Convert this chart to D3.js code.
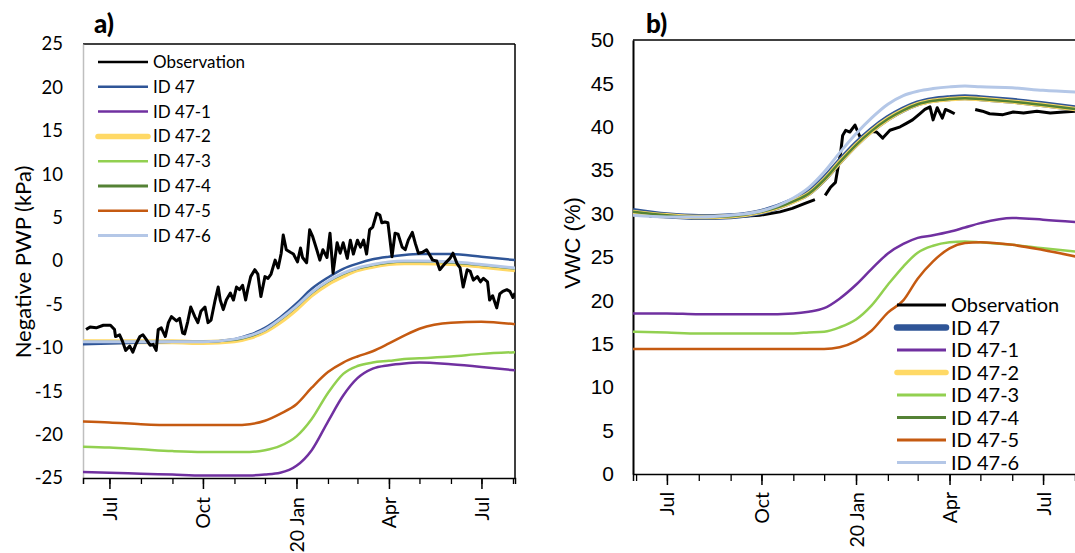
<!DOCTYPE html>
<html>
<head>
<meta charset="utf-8">
<script src="https://cdn.jsdelivr.net/npm/d3@7"></script>
<style>
  body { margin: 0; background: #fff; }
  svg { display: block; }
</style>
</head>
<body>
<svg id="chart" width="1075" height="553"></svg>
<script>
// ---- series meta ----
const seriesNames  = ["Observation", "ID 47", "ID 47-1", "ID 47-2", "ID 47-3", "ID 47-4", "ID 47-5", "ID 47-6"];
const seriesColors = ["#000000", "#2F5597", "#7030A0", "#FFD966", "#92D050", "#548235", "#C55A11", "#B4C7E7"];

// ---- axis ticks ----
const majorTickDates = ["2019-07-01", "2019-10-01", "2020-01-01", "2020-04-01", "2020-07-01"];
const xTickLabels    = ["Jul", "Oct", "20 Jan", "Apr", "Jul"];
const pwpTicks = [-25, -20, -15, -10, -5, 0, 5, 10, 15, 20, 25];
const vwcTicks = [0, 5, 10, 15, 20, 25, 30, 35, 40, 45, 50];

// ---- simulated series, panel a) negative pore-water pressure (kPa) ----
const pwpDates = ["2019-06-05", "2019-07-01", "2019-08-01", "2019-09-01", "2019-10-01", "2019-11-01", "2019-11-16",
  "2019-12-01", "2019-12-16", "2020-01-01", "2020-01-16", "2020-02-01", "2020-02-16", "2020-03-01", "2020-03-16",
  "2020-04-01", "2020-04-16", "2020-05-01", "2020-06-01", "2020-07-01", "2020-08-03"];
const pwp47   = [-9.6, -9.5, -9.4, -9.3, -9.3, -9.0, -8.5, -7.7, -6.5, -4.9, -3.2, -1.9, -0.9, -0.3, 0.2, 0.5, 0.7, 0.8, 0.8, 0.5, 0.1];
const pwp47_1 = [-24.3, -24.4, -24.5, -24.6, -24.7, -24.7, -24.7, -24.6, -24.4, -23.6, -21.8, -18.5, -15.5, -13.5, -12.4, -12.0, -11.8, -11.7, -11.9, -12.2, -12.6];
const pwp47_2 = [-9.3, -9.3, -9.3, -9.3, -9.4, -9.2, -8.8, -8.1, -7.0, -5.5, -3.9, -2.6, -1.7, -1.0, -0.6, -0.3, -0.2, -0.2, -0.3, -0.6, -1.0];
const pwp47_3 = [-21.4, -21.5, -21.7, -21.9, -22.0, -22.0, -22.0, -21.8, -21.3, -20.2, -18.2, -15.2, -13.0, -12.1, -11.7, -11.5, -11.3, -11.2, -11.0, -10.7, -10.5];
const pwp47_4 = [-9.3, -9.3, -9.3, -9.3, -9.3, -9.1, -8.7, -8.0, -6.8, -5.3, -3.7, -2.4, -1.5, -0.9, -0.5, -0.2, -0.1, -0.1, -0.2, -0.5, -0.9];
const pwp47_5 = [-18.5, -18.6, -18.8, -18.9, -18.9, -18.9, -18.8, -18.4, -17.6, -16.5, -14.6, -12.8, -11.7, -11.0, -10.4, -9.5, -8.6, -7.8, -7.1, -7.0, -7.3];
const pwp47_6 = [-9.3, -9.3, -9.3, -9.3, -9.3, -9.0, -8.6, -7.9, -6.7, -5.2, -3.6, -2.3, -1.4, -0.8, -0.4, -0.1, 0.0, 0.0, -0.1, -0.4, -0.8];

// ---- observed negative PWP (kPa) ----
const pwpObsDates = ["2019-06-08", "2019-06-12", "2019-06-18", "2019-06-25", "2019-07-02", "2019-07-06", "2019-07-07",
  "2019-07-11", "2019-07-14", "2019-07-17", "2019-07-21", "2019-07-24", "2019-07-27", "2019-07-31", "2019-08-03",
  "2019-08-06", "2019-08-10", "2019-08-13", "2019-08-16", "2019-08-18", "2019-08-21", "2019-08-25", "2019-08-28",
  "2019-08-31", "2019-09-05", "2019-09-08", "2019-09-11", "2019-09-13", "2019-09-16", "2019-09-19", "2019-09-23",
  "2019-09-26", "2019-09-29", "2019-10-03", "2019-10-06", "2019-10-09", "2019-10-13", "2019-10-16", "2019-10-18",
  "2019-10-21", "2019-10-24", "2019-10-28", "2019-10-31", "2019-11-03", "2019-11-06", "2019-11-09", "2019-11-12",
  "2019-11-14", "2019-11-17", "2019-11-21", "2019-11-24", "2019-11-27", "2019-12-01", "2019-12-04", "2019-12-07",
  "2019-12-11", "2019-12-14", "2019-12-17", "2019-12-19", "2019-12-22", "2019-12-26", "2019-12-29", "2020-01-02",
  "2020-01-05", "2020-01-07", "2020-01-11", "2020-01-14", "2020-01-17", "2020-01-21", "2020-01-24", "2020-01-27",
  "2020-01-31", "2020-02-03", "2020-02-06", "2020-02-10", "2020-02-13", "2020-02-16", "2020-02-20", "2020-02-23",
  "2020-02-26", "2020-03-01", "2020-03-04", "2020-03-07", "2020-03-10", "2020-03-13", "2020-03-16", "2020-03-20",
  "2020-03-23", "2020-03-25", "2020-03-28", "2020-03-31", "2020-04-04", "2020-04-07", "2020-04-10", "2020-04-14",
  "2020-04-17", "2020-04-20", "2020-04-24", "2020-04-27", "2020-04-30", "2020-05-04", "2020-05-08", "2020-05-14",
  "2020-05-18", "2020-05-21", "2020-05-26", "2020-05-31", "2020-06-03", "2020-06-07", "2020-06-10", "2020-06-13",
  "2020-06-17", "2020-06-20", "2020-06-23", "2020-06-27", "2020-06-30", "2020-07-03", "2020-07-07", "2020-07-09",
  "2020-07-12", "2020-07-16", "2020-07-19", "2020-07-22", "2020-07-26", "2020-07-29", "2020-08-01", "2020-08-03"];
const pwpObs = [-7.9, -7.6, -7.7, -7.4, -7.4, -7.9, -8.7,
  -8.5, -9.3, -10.3, -9.8, -10.5, -9.6, -8.7, -8.5,
  -9.0, -9.7, -9.6, -10.3, -7.9, -7.7, -8.7, -7.1,
  -6.4, -6.9, -6.6, -8.3, -8.4, -7.0, -5.3, -6.4,
  -7.1, -5.8, -5.3, -7.1, -6.8, -4.5, -3.0, -4.5,
  -5.6, -4.5, -3.7, -4.5, -3.0, -3.3, -2.8, -4.5,
  -3.3, -1.8, -1.0, -1.5, -4.1, -1.8, -2.0, -1.5,
  0.1, -0.8, 0.9, 3.0, 1.3, 1.0, 0.8, -0.1,
  1.5, 0.4, -0.2, 3.6, 2.8, 1.3, 0.1, 1.3,
  0.4, 3.2, -1.4, 2.1, 0.9, 2.1, 0.3, 2.4,
  0.8, 2.4, 1.6, 2.4, 0.8, 3.6, 3.9, 5.5,
  5.3, 4.4, 4.5, 4.4, 0.5, 3.2, 3.1, 1.6,
  1.3, 2.4, 3.3, 2.0, 0.9, 1.0, 1.3, 0.1,
  0.0, -1.0, -0.3, 0.3, 0.9, -0.3, -0.8, -3.0,
  -1.0, -1.2, -2.2, -1.8, -2.4, -2.0, -2.4, -4.5,
  -4.0, -5.4, -3.8, -3.5, -3.3, -3.5, -4.2, -3.7];

// ---- simulated series, panel b) volumetric water content (%) ----
const vwcDates = ["2019-05-29", "2019-07-01", "2019-08-01", "2019-09-01", "2019-10-01", "2019-11-01", "2019-11-16",
  "2019-12-01", "2019-12-16", "2020-01-01", "2020-01-16", "2020-02-01", "2020-02-16", "2020-03-01", "2020-03-16",
  "2020-04-01", "2020-04-16", "2020-05-01", "2020-06-01", "2020-07-01", "2020-08-04"];
const vwc47   = [30.3, 29.8, 29.6, 29.7, 30.2, 31.5, 32.4, 34.0, 36.0, 38.0, 39.6, 41.0, 42.0, 42.7, 43.1, 43.3, 43.4, 43.3, 43.0, 42.6, 42.1];
const vwc47_1 = [18.5, 18.5, 18.4, 18.4, 18.4, 18.5, 18.7, 19.1, 20.2, 21.8, 23.6, 25.4, 26.5, 27.2, 27.5, 27.9, 28.4, 28.9, 29.5, 29.3, 29.0];
const vwc47_2 = [30.2, 29.8, 29.6, 29.7, 30.2, 31.4, 32.3, 33.9, 35.9, 37.9, 39.5, 40.9, 41.9, 42.6, 43.0, 43.2, 43.3, 43.2, 42.9, 42.5, 42.0];
const vwc47_3 = [16.4, 16.3, 16.2, 16.2, 16.2, 16.2, 16.3, 16.4, 16.9, 17.8, 19.4, 21.8, 23.9, 25.5, 26.3, 26.7, 26.8, 26.7, 26.4, 26.0, 25.6];
const vwc47_4 = [30.2, 29.8, 29.6, 29.7, 30.2, 31.4, 32.3, 33.9, 35.9, 37.9, 39.5, 40.9, 41.9, 42.6, 43.0, 43.2, 43.3, 43.2, 42.9, 42.5, 42.0];
const vwc47_5 = [14.4, 14.4, 14.4, 14.4, 14.4, 14.4, 14.4, 14.4, 14.6, 15.3, 16.5, 18.6, 20.0, 22.5, 24.5, 26.0, 26.6, 26.7, 26.4, 25.8, 25.0];
const vwc47_6 = [29.8, 29.6, 29.6, 29.8, 30.3, 31.8, 33.0, 34.8, 37.0, 39.2, 41.0, 42.6, 43.6, 44.1, 44.4, 44.6, 44.7, 44.6, 44.5, 44.2, 44.0];

// ---- observed VWC (%); null marks gaps in the record ----
const vwcObsDates = ["2019-06-14", "2019-07-07", "2019-08-02", "2019-08-31", "2019-09-29", "2019-10-19", "2019-10-31",
  "2019-11-13", "2019-11-22", "2019-11-27", "2019-12-02", "2019-12-07", "2019-12-12", "2019-12-14", "2019-12-17",
  "2019-12-19", "2019-12-22", "2019-12-26", "2019-12-31", "2020-01-05", "2020-01-12", "2020-01-14", "2020-01-21",
  "2020-01-27", "2020-02-03", "2020-02-13", "2020-02-19", "2020-02-25", "2020-03-03", "2020-03-08", "2020-03-13",
  "2020-03-16", "2020-03-20", "2020-03-25", "2020-03-28", "2020-04-01", "2020-04-06", "2020-04-16", "2020-04-26",
  "2020-05-03", "2020-05-10", "2020-05-23", "2020-06-02", "2020-06-12", "2020-06-25", "2020-07-08", "2020-07-21",
  "2020-08-03"];
const vwcObs = [29.7, 29.6, 29.5, 29.6, 29.8, 30.2, 30.6,
  31.2, 31.6, null, 32.1, 33.0, 33.6, 35.0, 37.0,
  39.0, 39.6, 39.4, 40.2, 38.8, 39.1, 39.5, 39.4,
  38.7, 39.6, 40.0, 40.4, 40.8, 41.5, 42.0, 42.3,
  40.8, 42.2, 41.0, 42.0, 41.8, 41.5, null, 42.0,
  41.8, 41.5, 41.4, 41.7, 41.6, 41.8, 41.6, 41.7,
  41.8];

const parse = d3.timeParse("%Y-%m-%d");
const svg = d3.select("#chart");
svg.append("rect").attr("width", 1075).attr("height", 553).attr("fill", "#fff");

const calibriLike = "Lato, 'Open Sans', sans-serif";
const arialLike = "'Liberation Sans', Arial, sans-serif";
// plain hyphen for negative tick values
const plainNumber = d => String(d);

function drawPanel(cfg) {
  const x = d3.scaleTime().domain(cfg.xDomain.map(parse)).range([cfg.left, cfg.right]);
  const y = d3.scaleLinear().domain(cfg.yDomain).range([cfg.bottom, cfg.top]);

  const clipId = "clip-" + cfg.id;
  svg.append("clipPath").attr("id", clipId).append("rect")
    .attr("x", cfg.left).attr("y", cfg.top - 4)
    .attr("width", cfg.right - cfg.left).attr("height", cfg.bottom - cfg.top + 4);

  // frame: top and right edges
  svg.append("line").attr("x1", cfg.left).attr("x2", cfg.right).attr("y1", cfg.top).attr("y2", cfg.top)
    .attr("stroke", "#000").attr("stroke-width", 1.5);
  svg.append("line").attr("x1", cfg.right).attr("x2", cfg.right).attr("y1", cfg.top).attr("y2", cfg.bottom)
    .attr("stroke", "#000").attr("stroke-width", 1.5);

  // y axis
  const yAxis = svg.append("g").attr("transform", `translate(${cfg.left},0)`)
    .call(d3.axisLeft(y).tickValues(cfg.yTicks).tickSize(0).tickPadding(cfg.yPad).tickFormat(plainNumber));
  yAxis.select(".domain").attr("stroke", cfg.yAxisColor).attr("stroke-width", cfg.yAxisWidth);
  yAxis.selectAll("text").attr("font-family", cfg.yFont).attr("font-size", cfg.yFontSize).attr("fill", "#000");

  // x axis: monthly minor ticks, quarterly labelled ticks
  const months = d3.timeMonth.range(x.domain()[0], x.domain()[1]);
  const minor = svg.append("g").attr("transform", `translate(0,${cfg.bottom})`)
    .call(d3.axisBottom(x).tickValues(months).tickSize(cfg.minorTick).tickFormat(""));
  minor.select(".domain").attr("stroke", "#000").attr("stroke-width", 1.5);
  minor.selectAll(".tick line").attr("stroke", "#000").attr("stroke-width", 1.3);

  const majorDates = majorTickDates.map(parse);
  const major = svg.append("g").attr("transform", `translate(0,${cfg.bottom})`)
    .call(d3.axisBottom(x).tickValues(majorDates).tickSize(cfg.majorTick)
      .tickFormat((d, i) => xTickLabels[i]));
  major.select(".domain").remove();
  major.selectAll(".tick line").attr("stroke", "#000").attr("stroke-width", 1.5);
  major.selectAll("text")
    .attr("font-family", calibriLike).attr("font-size", cfg.xFontSize).attr("fill", "#000")
    .attr("text-anchor", "end")
    .attr("transform", "rotate(-90)")
    .attr("x", -cfg.xLabelGap).attr("y", 0).attr("dy", "0.36em");

  // y title
  svg.append("text")
    .attr("transform", `translate(${cfg.titleX},${cfg.titleY}) rotate(-90)`)
    .attr("text-anchor", "middle").attr("dy", "0.35em")
    .attr("font-family", cfg.titleFont).attr("font-size", cfg.titleSize).attr("fill", "#000")
    .text(cfg.yTitle);

  // panel tag
  svg.append("text").attr("x", cfg.tagX).attr("y", cfg.tagY)
    .attr("font-family", calibriLike).attr("font-weight", 900).attr("font-size", 26).attr("fill", "#000")
    .text(cfg.tag);

  // series
  const dates = cfg.dates.map(parse);
  const model = d3.line().x((d, i) => x(dates[i])).y(d => y(d)).curve(d3.curveMonotoneX);
  const obsDates = cfg.obsDates.map(parse);
  const obsLine = d3.line().defined(d => d !== null)
    .x((d, i) => x(obsDates[i])).y(d => y(d));
  const plot = svg.append("g").attr("clip-path", `url(#${clipId})`);
  const drawObs = () => plot.append("path").datum(cfg.obs)
    .attr("fill", "none").attr("stroke", seriesColors[0])
    .attr("stroke-width", cfg.widths[0]).attr("stroke-linejoin", "round")
    .attr("d", obsLine);
  if (!cfg.obsOnTop) drawObs();
  cfg.drawOrder.forEach(k => {
    plot.append("path").datum(cfg.series[k])
      .attr("fill", "none").attr("stroke", seriesColors[k])
      .attr("stroke-width", cfg.widths[k]).attr("stroke-linejoin", "round")
      .attr("d", model);
  });
  if (cfg.obsOnTop) drawObs();

  // legend
  const lg = svg.append("g");
  seriesNames.forEach((name, k) => {
    const ly = cfg.legendY + k * cfg.legendStep;
    lg.append("line").attr("x1", cfg.legendX).attr("x2", cfg.legendX + cfg.legendLen)
      .attr("y1", ly).attr("y2", ly)
      .attr("stroke", seriesColors[k]).attr("stroke-width", cfg.legendWidths[k])
      .attr("stroke-linecap", cfg.legendWidths[k] > 4 ? "round" : "butt");
    lg.append("text").attr("x", cfg.legendX + cfg.legendLen + 5).attr("y", ly).attr("dy", "0.35em")
      .attr("font-family", calibriLike).attr("font-size", cfg.legendFont).attr("fill", "#000")
      .text(name);
  });
}

drawPanel({
  id: "a", tag: "a)", tagX: 94, tagY: 33,
  xDomain: ["2019-06-05", "2020-08-03"], yDomain: [-25, 25], yTicks: pwpTicks,
  left: 83, right: 515, top: 44, bottom: 478,
  yPad: 20, yFont: calibriLike, yFontSize: 18.5, yAxisColor: "#bfbfbf", yAxisWidth: 1.5,
  minorTick: 6, majorTick: 11, xFontSize: 19.5, xLabelGap: 19,
  yTitle: "Negative PWP (kPa)", titleX: 23, titleY: 262, titleFont: calibriLike, titleSize: 22,
  dates: pwpDates,
  series: [null, pwp47, pwp47_1, pwp47_2, pwp47_3, pwp47_4, pwp47_5, pwp47_6],
  drawOrder: [3, 1, 2, 4, 5, 6, 7],
  widths: [3, 2.5, 2.5, 5, 2.5, 2, 2.5, 3],
  obsOnTop: true,
  obsDates: pwpObsDates, obs: pwpObs,
  legendX: 98, legendY: 62, legendStep: 24.8, legendLen: 50, legendFont: 17,
  legendWidths: [2.5, 2.5, 2.5, 5.5, 2.5, 3, 2.5, 3]
});

drawPanel({
  id: "b", tag: "b)", tagX: 646, tagY: 33,
  xDomain: ["2019-05-29", "2020-08-04"], yDomain: [0, 50], yTicks: vwcTicks,
  left: 633, right: 1078, top: 40, bottom: 474,
  yPad: 19, yFont: arialLike, yFontSize: 21, yAxisColor: "#000", yAxisWidth: 2,
  minorTick: 7, majorTick: 11, xFontSize: 19.5, xLabelGap: 18,
  yTitle: "VWC (%)", titleX: 572, titleY: 243, titleFont: arialLike, titleSize: 22,
  dates: vwcDates,
  series: [null, vwc47, vwc47_1, vwc47_2, vwc47_3, vwc47_4, vwc47_5, vwc47_6],
  drawOrder: [1, 3, 5, 2, 4, 6, 7],
  widths: [3, 6, 2.5, 4.5, 2.5, 2.5, 2.5, 3],
  obsOnTop: false,
  obsDates: vwcObsDates, obs: vwcObs,
  legendX: 897, legendY: 305, legendStep: 22.5, legendLen: 49, legendFont: 20,
  legendWidths: [3, 6.5, 3, 5.5, 3, 3, 3, 3]
});
</script>
</body>
</html>
